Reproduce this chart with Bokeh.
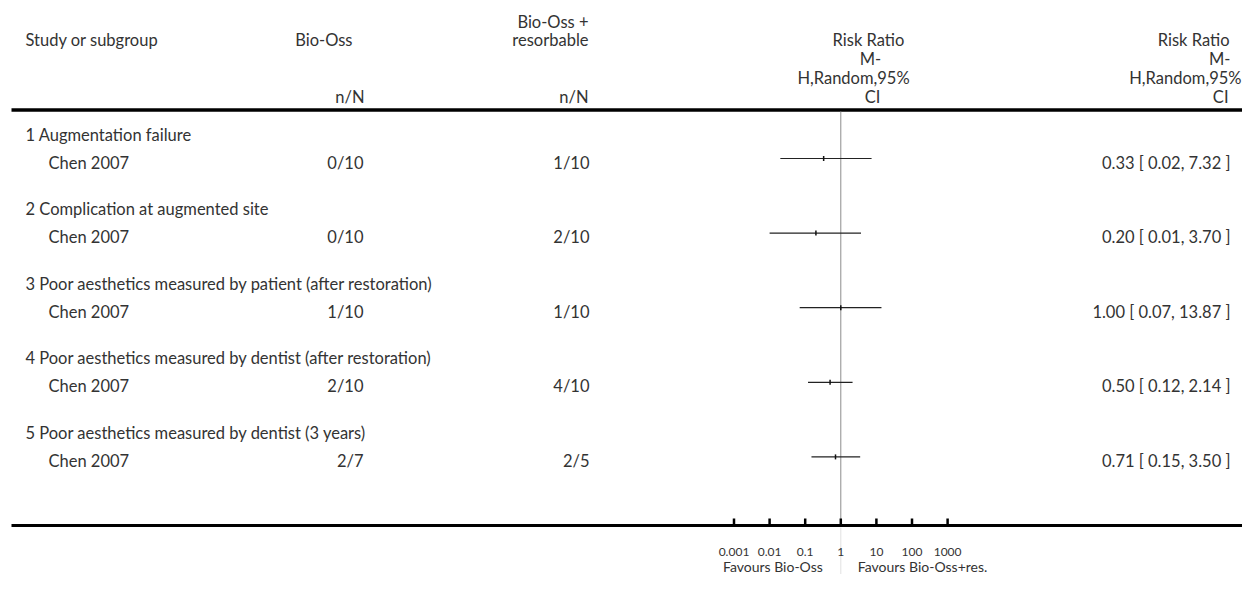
import math
from bokeh.plotting import figure
from bokeh.models import Range1d, LogScale
from bokeh.core.properties import value
from bokeh.embed import file_html
from bokeh.resources import INLINE

# ---------------- data ----------------
subgroups = [
    "1 Augmentation failure",
    "2 Complication at augmented site",
    "3 Poor aesthetics measured by patient (after restoration)",
    "4 Poor aesthetics measured by dentist (after restoration)",
    "5 Poor aesthetics measured by dentist (3 years)",
]
studies = ["Chen 2007", "Chen 2007", "Chen 2007", "Chen 2007", "Chen 2007"]
bio_oss = ["0/10", "0/10", "1/10", "2/10", "2/7"]
bio_oss_res = ["1/10", "2/10", "1/10", "4/10", "2/5"]
rr = [0.33, 0.20, 1.00, 0.50, 0.71]
rr_lo = [0.02, 0.01, 0.07, 0.12, 0.15]
rr_hi = [7.32, 3.70, 13.87, 2.14, 3.50]
tick_values = [0.001, 0.01, 0.1, 1, 10, 100, 1000]
tick_labels = ["0.001", "0.01", "0.1", "1", "10", "100", "1000"]
left_label = "Favours Bio-Oss"
right_label = "Favours Bio-Oss+res."

# ---------------- layout ----------------
W, H = 1242, 574
FONT = value("Lato")
TXT = "#333333"
FS = "16.5px"

CENTER_X = 840.3      # px of RR = 1
DECADE = 35.6         # px per decade
rr_start = 10 ** ((0 - CENTER_X) / DECADE)
rr_end = 10 ** ((W - CENTER_X) / DECADE)

p = figure(width=W, height=H, x_range=Range1d(0, W), y_range=Range1d(H, 0),
           x_axis_type=None, y_axis_type=None, toolbar_location=None,
           output_backend="svg", min_border=0, outline_line_color=None)
p.grid.visible = False
p.extra_x_ranges = {"rr": Range1d(start=rr_start, end=rr_end)}
p.extra_x_scales = {"rr": LogScale()}


def txt(x, y, t, align="left", size=FS, color=TXT):
    p.text(x=x, y=y, text=t, text_align=align, text_baseline="middle",
           text_font=FONT, text_font_size=size, text_color=color)


# headers
txt([25], [39], ["Study or subgroup"])
txt([352], [39], ["Bio-Oss"], "right")
txt([364], [96], ["n/N"], "right")
txt([588], [21], ["Bio-Oss +"], "right")
txt([588], [39], ["resorbable"], "right")
txt([588], [96], ["n/N"], "right")
txt([868, 870, 853, 872], [39, 58, 77, 96],
    ["Risk Ratio", "M-", "H,Random,95%", "CI"], "center")
txt([1229, 1230, 1241, 1228], [39, 58, 77, 96],
    ["Risk Ratio", "M-", "H,Random,95%", "CI"], "right")

# rules
p.segment(x0=[11], x1=[1244], y0=[109.5], y1=[109.5], line_color="black", line_width=3.5)
p.segment(x0=[11], x1=[1244], y0=[525], y1=[525], line_color="black", line_width=3)

# rows
ROW0, STEP = 158.0, 74.6
ci_y = [ROW0 + STEP * i for i in range(len(rr))]
text_y = [y + 4 for y in ci_y]
head_y = [y - 24 for y in ci_y]

txt([25] * len(subgroups), head_y, subgroups)
txt([48] * len(studies), text_y, studies)
txt([363] * len(bio_oss), text_y, bio_oss, "right")
txt([589] * len(bio_oss_res), text_y, bio_oss_res, "right")
rr_txt = ["%.2f [ %.2f, %.2f ]" % (a, b, c) for a, b, c in zip(rr, rr_lo, rr_hi)]
txt([1230] * len(rr_txt), text_y, rr_txt, "right")

# null line
p.segment(x0=[1], x1=[1], y0=[111], y1=[524], x_range_name="rr",
          line_color="#8c8c8c", line_width=1)
p.segment(x0=[1], x1=[1], y0=[527], y1=[H], x_range_name="rr",
          line_color="#e2e2e2", line_width=1)

# CIs and point estimates
p.segment(x0=rr_lo, x1=rr_hi, y0=ci_y, y1=ci_y, x_range_name="rr",
          line_color="#222222", line_width=1.2)
p.segment(x0=rr, x1=rr, y0=[y - 2.5 for y in ci_y], y1=[y + 2.5 for y in ci_y],
          x_range_name="rr", line_color="#111111", line_width=1.5)

# axis ticks and labels
p.segment(x0=tick_values, x1=tick_values, y0=[518] * len(tick_values),
          y1=[525] * len(tick_values), x_range_name="rr",
          line_color="black", line_width=2.5)
p.text(x=tick_values, y=[551] * len(tick_values), text=tick_labels,
       x_range_name="rr", text_align="center", text_baseline="middle",
       text_font=FONT, text_font_size="12px", text_color=TXT)
p.text(x=[1 / 10 ** (18 / DECADE)], y=[566], text=[left_label], x_range_name="rr",
       text_align="right", text_baseline="middle", text_font=FONT,
       text_font_size="14px", text_color=TXT)
p.text(x=[10 ** (17 / DECADE)], y=[566], text=[right_label], x_range_name="rr",
       text_align="left", text_baseline="middle", text_font=FONT,
       text_font_size="14px", text_color=TXT)

open("out.html", "w").write(file_html(p, INLINE))
